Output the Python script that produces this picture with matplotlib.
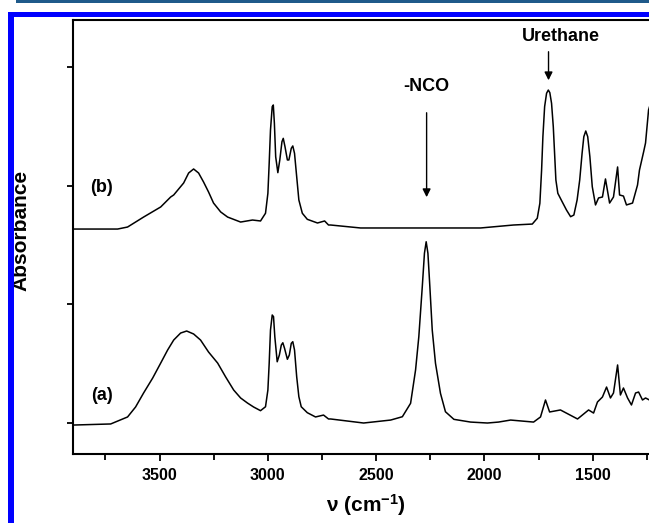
import numpy as np
import matplotlib
matplotlib.use('Agg')
import matplotlib.pyplot as plt
from matplotlib.patches import Rectangle
from matplotlib.ticker import MultipleLocator

plt.rcParams['font.family'] = ['Liberation Sans', 'DejaVu Sans']
plt.rcParams['font.weight'] = 'bold'
plt.rcParams['mathtext.fontset'] = 'custom'
plt.rcParams['mathtext.rm'] = 'Liberation Sans:bold'
plt.rcParams['mathtext.it'] = 'Liberation Sans:bold'
plt.rcParams['mathtext.bf'] = 'Liberation Sans:bold'

# spectrum (b): after reaction, offset upward
wn_b = [3897, 3694, 3648, 3574, 3495, 3449, 3435, 3389, 3366, 3343, 3320, 3297,
        3274, 3251, 3218, 3186, 3126, 3071, 3034,
        3011, 3000, 2994, 2988, 2980, 2975, 2970, 2964, 2954, 2945, 2935, 2929,
        2921, 2910, 2903, 2892, 2885, 2877, 2867, 2857, 2841, 2818,
        2771, 2738, 2720, 2710, 2572, 2300, 2018, 1866,
        1779, 1756, 1744, 1736, 1730, 1722, 1713, 1705, 1698, 1690, 1682, 1676,
        1670, 1661, 1641, 1621, 1602, 1587, 1572, 1560, 1549, 1541, 1532, 1523,
        1513, 1502, 1487,
        1473, 1455, 1441, 1422, 1404, 1385, 1376, 1358, 1344, 1316, 1293, 1284,
        1265, 1256, 1242, 1238]
abs_b = [1.634, 1.634, 1.651, 1.735, 1.820, 1.904, 1.921, 2.022, 2.106, 2.140, 2.106, 2.030,
         1.946, 1.853, 1.778, 1.735, 1.693, 1.710, 1.702,
         1.767, 1.935, 2.188, 2.468, 2.665, 2.679, 2.525, 2.243, 2.109, 2.216, 2.370, 2.398,
         2.328, 2.216, 2.216, 2.314, 2.334, 2.272, 2.075, 1.879, 1.767, 1.716,
         1.685, 1.702, 1.668, 1.668, 1.643, 1.643, 1.643, 1.668,
         1.676, 1.725, 1.851, 2.131, 2.412, 2.665, 2.778, 2.805, 2.783, 2.693, 2.496, 2.272,
         2.047, 1.935, 1.864, 1.794, 1.738, 1.752, 1.879, 2.047, 2.272, 2.412, 2.460, 2.412,
         2.243, 1.991, 1.837,
         1.896, 1.904, 2.056, 1.853, 1.904, 2.157, 1.921, 1.912, 1.837, 1.853, 2.005, 2.131,
         2.283, 2.359, 2.637, 2.662]

# spectrum (a): before reaction
wn_a = [3897, 3726, 3648, 3611, 3574, 3532, 3495, 3463, 3435, 3403, 3375, 3343,
        3311, 3274, 3232, 3195, 3158, 3126, 3094, 3066, 3034,
        3011, 3000, 2994, 2988, 2980, 2974, 2968, 2957, 2947, 2938, 2931, 2923,
        2910, 2901, 2892, 2885, 2877, 2867, 2857, 2846, 2818,
        2780, 2743, 2720, 2710, 2558, 2433,
        2379, 2341, 2318, 2303, 2287, 2277, 2269, 2261, 2252, 2241, 2226, 2203,
        2180, 2141,
        2064, 1986, 1935, 1879, 1773, 1741, 1718, 1699, 1649, 1570, 1519, 1496,
        1478, 1455, 1436, 1418, 1404, 1385, 1372, 1358, 1339, 1321, 1302, 1288,
        1270, 1256, 1238]
abs_a = [-0.017, -0.008, 0.051, 0.135, 0.253, 0.379, 0.505, 0.615, 0.699, 0.758, 0.775, 0.750,
         0.699, 0.598, 0.505, 0.388, 0.278, 0.211, 0.168, 0.135, 0.104,
         0.137, 0.278, 0.503, 0.783, 0.910, 0.896, 0.727, 0.516, 0.573, 0.657, 0.676, 0.629,
         0.537, 0.573, 0.671, 0.685, 0.615, 0.390, 0.222, 0.137, 0.087,
         0.051, 0.067, 0.034, 0.034, 0.000, 0.025,
         0.053, 0.166, 0.447, 0.727, 1.148, 1.430, 1.527, 1.430, 1.148, 0.783, 0.503, 0.250,
         0.095, 0.031,
         0.008, 0.000, 0.008, 0.025, 0.008, 0.051, 0.194, 0.093, 0.110, 0.034, 0.110, 0.084,
         0.177, 0.219, 0.303, 0.211, 0.253, 0.489, 0.236, 0.295, 0.211, 0.152, 0.253, 0.261,
         0.194, 0.211, 0.194]

fig = plt.figure(figsize=(6.49, 5.23), dpi=100, facecolor='white')
ax = fig.add_axes([73/649, 1-454/523, 1-73/649, (454-20)/523])

ax.plot(wn_b, abs_b, color='black', lw=1.1)
ax.plot(wn_a, abs_a, color='black', lw=1.1)

ax.set_xlim(3900, 1240)
ax.set_ylim(-0.261, 3.395)
ax.xaxis.set_major_locator(MultipleLocator(500))
ax.xaxis.set_minor_locator(MultipleLocator(250))
ax.set_yticks([0, 1, 2, 3])
ax.set_yticklabels([])
ax.tick_params(axis='x', which='major', direction='out', length=5, width=1.3, labelsize=11.5, pad=5)
ax.tick_params(axis='x', which='minor', direction='out', length=4, width=1.3)
ax.tick_params(axis='y', direction='out', length=4, width=1.3)
for lab in ax.get_xticklabels():
    lab.set_fontweight('bold')
for side in ['left', 'top', 'bottom']:
    ax.spines[side].set_linewidth(1.5)
ax.spines['right'].set_visible(False)

ax.set_xlabel('ν (cm$^{-1}$)', fontsize=15, fontweight='bold', va='center')
ax.xaxis.set_label_coords((366-73)/(649-73), -(505-454)/434)
ax.set_ylabel('Absorbance', fontsize=15, fontweight='bold')
ax.yaxis.set_label_coords(-(73-30)/(649-73), (454-230)/434)

ax.text(3768, 1.98, '(b)', fontsize=13, fontweight='bold', ha='center', va='center')
ax.text(3768, 0.236, '(a)', fontsize=13, fontweight='bold', ha='center', va='center')
ax.text(2267, 2.839, '-NCO', fontsize=13, fontweight='bold', ha='center', va='center')
ax.text(1649, 3.252, 'Urethane', fontsize=13, fontweight='bold', ha='center', va='center')
ax.annotate('', xy=(2267, 1.879), xytext=(2267, 2.637),
            arrowprops=dict(arrowstyle='-|>', color='black', lw=1, mutation_scale=12))
ax.annotate('', xy=(1704, 2.864), xytext=(1704, 3.151),
            arrowprops=dict(arrowstyle='-|>', color='black', lw=1, mutation_scale=12))

# page decorations around the figure
fig.add_artist(Rectangle((8/649, 0), 6/649, 1-12/523, transform=fig.transFigure,
                         color='#0000ff', lw=0))
fig.add_artist(Rectangle((8/649, 1-17/523), 1, 5/523, transform=fig.transFigure,
                         color='#0000ff', lw=0))
fig.add_artist(Rectangle((16/649, 1-3/523), 1, 3/523, transform=fig.transFigure,
                         color='#1f5a8a', lw=0))

fig.savefig('out.png', dpi=100)
